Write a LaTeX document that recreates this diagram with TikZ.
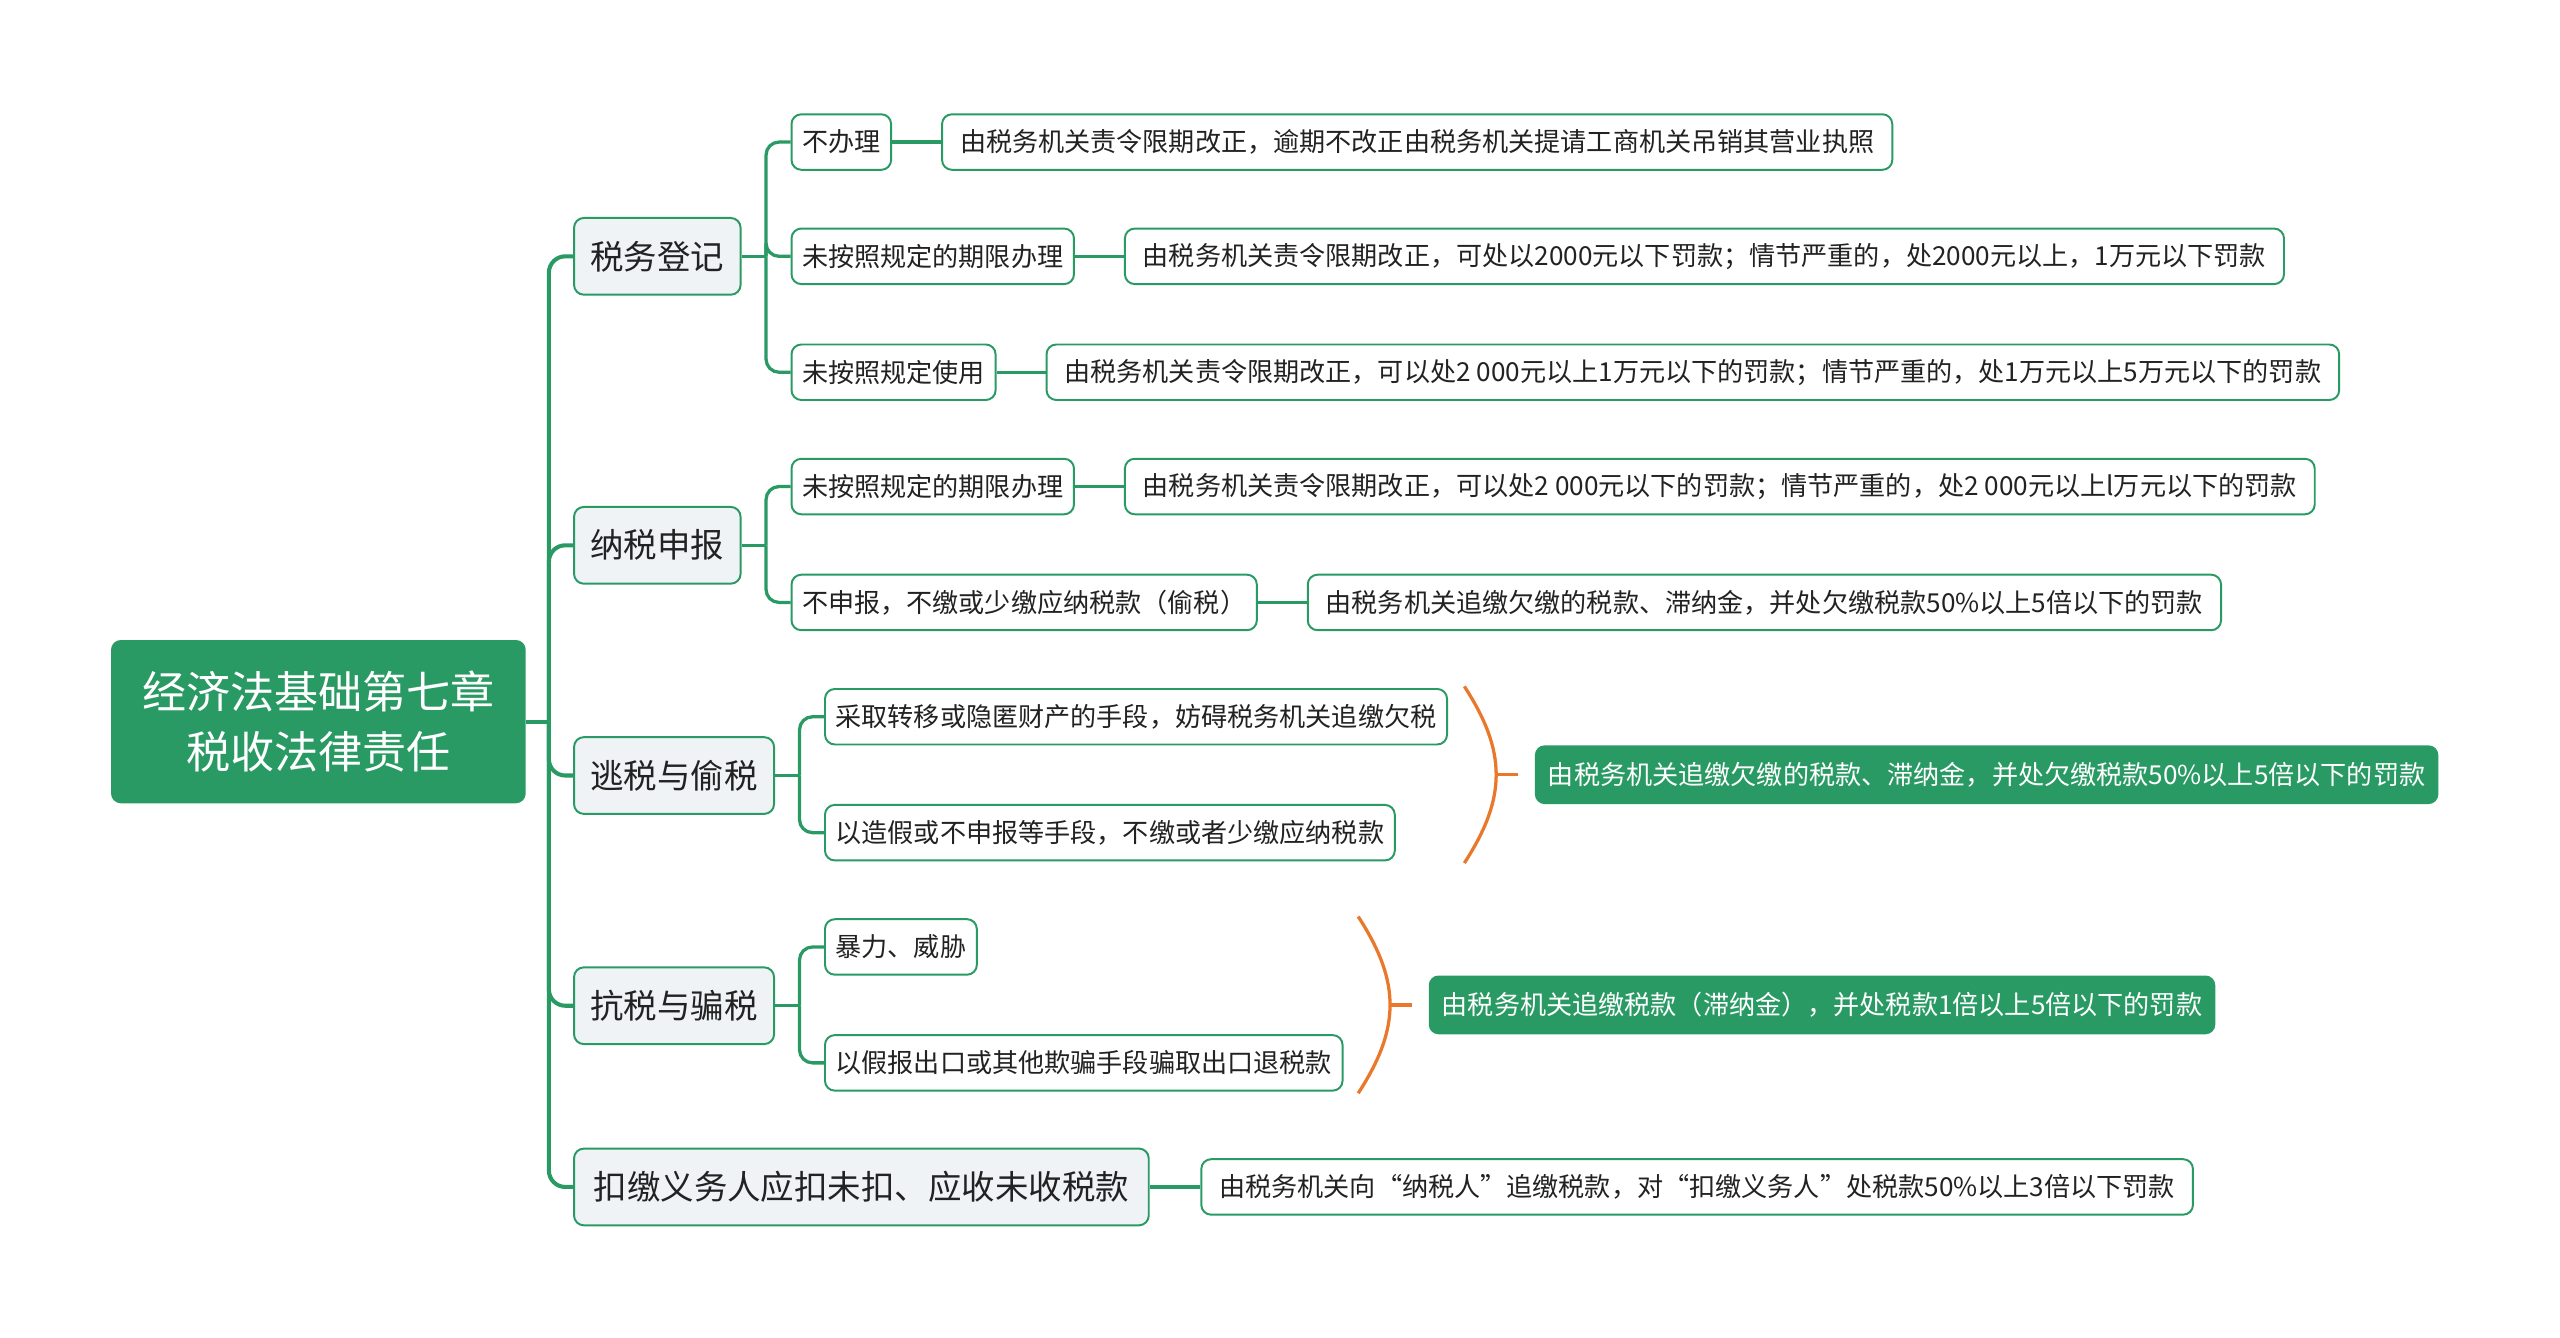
\documentclass[tikz,border=0pt]{standalone}
\usepackage{fontspec}
\setmainfont{Noto Sans CJK SC}
\usetikzlibrary{positioning,calc}
\definecolor{mapgreen}{RGB}{42,154,100}
\definecolor{topicfill}{RGB}{239,243,246}
\definecolor{braceorange}{RGB}{233,120,42}
\definecolor{textdark}{RGB}{34,34,34}
\tikzset{
  rootbox/.style={
    rectangle,
    rounded corners=6pt,
    fill=mapgreen,
    text=white,
    minimum width=254pt,
    minimum height=100pt,
    align=center,
    font=\fontsize{27}{37}\selectfont
  },
  topicbox/.style={
    draw=mapgreen,
    line width=1.2pt,
    fill=topicfill,
    rounded corners=6pt,
    minimum height=47pt,
    inner xsep=10pt,
    text=textdark,
    anchor=west,
    font=\fontsize{20.5}{24}\selectfont
  },
  itembox/.style={
    draw=mapgreen,
    line width=1.2pt,
    fill=white,
    rounded corners=6pt,
    minimum height=34pt,
    inner xsep=6.5pt,
    text=textdark,
    font=\fontsize{16}{19}\selectfont
  },
  detailbox/.style={
    itembox,
    inner xsep=11pt
  },
  resultbox/.style={
    fill=mapgreen,
    rounded corners=6pt,
    minimum height=36pt,
    inner xsep=8pt,
    text=white,
    anchor=west,
    font=\fontsize{16}{19}\selectfont
  },
  branch/.style={
    draw=mapgreen,
    line width=2.5pt,
    rounded corners=10pt
  },
  twig/.style={
    draw=mapgreen,
    line width=2pt,
    rounded corners=8pt
  },
  bracearc/.style={
    draw=braceorange,
    line width=2pt
  }
}

\begin{document}
\begin{tikzpicture}[x=1pt, y=-1pt, node distance=30pt]
\useasboundingbox (0,0) rectangle (1568,819);

\node[rootbox] (root) at (195,442) {经济法基础第七章\\税收法律责任};

\node[topicbox] (dengji) at (351,157) {税务登记};
\node[topicbox] (shenbao) at (351,334) {纳税申报};
\node[topicbox] (taoshui) at (351,475) {逃税与偷税};
\node[topicbox] (kangshui) at (351,616) {抗税与骗税};
\node[topicbox, inner xsep=12pt] (koujiao) at (351,727) {扣缴义务人应扣未扣、应收未收税款};

\node[itembox, right=of dengji, yshift=70pt] (buban) {不办理};
\node[itembox, right=of dengji] (dj-qixian) {未按照规定的期限办理};
\node[itembox, right=of dengji, yshift=-71pt] (shiyong) {未按照规定使用};
\node[itembox, right=of shenbao, yshift=36pt] (sb-qixian) {未按照规定的期限办理};
\node[itembox, right=of shenbao, yshift=-35pt] (bushenbao) {不申报，不缴或少缴应纳税款（偷税）};
\node[itembox, right=of taoshui, yshift=36pt] (zhuanyi) {采取转移或隐匿财产的手段，妨碍税务机关追缴欠税};
\node[itembox, right=of taoshui, yshift=-35pt] (zaojia) {以造假或不申报等手段，不缴或者少缴应纳税款};
\node[itembox, right=of kangshui, yshift=36pt] (baoli) {暴力、威胁};
\node[itembox, right=of kangshui, yshift=-35pt] (jiabao) {以假报出口或其他欺骗手段骗取出口退税款};

\node[detailbox, right=of buban] (buban-fa) {由税务机关责令限期改正，逾期不改正由税务机关提请工商机关吊销其营业执照};
\node[detailbox, right=of dj-qixian] (dj-qixian-fa) {由税务机关责令限期改正，可处以2000元以下罚款；情节严重的，处2000元以上，1万元以下罚款};
\node[detailbox, right=of shiyong] (shiyong-fa) {由税务机关责令限期改正，可以处2 000元以上1万元以下的罚款；情节严重的，处1万元以上5万元以下的罚款};
\node[detailbox, right=of sb-qixian] (sb-qixian-fa) {由税务机关责令限期改正，可以处2 000元以下的罚款；情节严重的，处2 000元以上l万元以下的罚款};
\node[detailbox, right=of bushenbao] (bushenbao-fa) {由税务机关追缴欠缴的税款、滞纳金，并处欠缴税款50\%以上5倍以下的罚款};
\node[detailbox, right=31pt of koujiao] (koujiao-fa) {由税务机关向“纳税人”追缴税款，对“扣缴义务人”处税款50\%以上3倍以下罚款};

\coordinate (trunk) at ($(root.east)+(14,0)$);
\draw[branch] (root) -- (trunk);
\foreach \t in {dengji,shenbao,taoshui,kangshui,koujiao}
  \draw[branch] (trunk) |- (\t.west);

\coordinate (dengji-bus) at ($(dengji.east)+(15,0)$);
\draw[twig] (dengji) -- (dengji-bus);
\foreach \c in {buban,dj-qixian,shiyong}
  \draw[twig] (dengji-bus) |- (\c.west);

\coordinate (shenbao-bus) at ($(shenbao.east)+(15,0)$);
\draw[twig] (shenbao) -- (shenbao-bus);
\foreach \c in {sb-qixian,bushenbao}
  \draw[twig] (shenbao-bus) |- (\c.west);

\coordinate (taoshui-bus) at ($(taoshui.east)+(15,0)$);
\draw[twig] (taoshui) -- (taoshui-bus);
\foreach \c in {zhuanyi,zaojia}
  \draw[twig] (taoshui-bus) |- (\c.west);

\coordinate (kangshui-bus) at ($(kangshui.east)+(15,0)$);
\draw[twig] (kangshui) -- (kangshui-bus);
\foreach \c in {baoli,jiabao}
  \draw[twig] (kangshui-bus) |- (\c.west);

\foreach \c in {buban,dj-qixian,shiyong,sb-qixian,bushenbao,koujiao}
  \draw[twig] (\c) -- (\c-fa);

\coordinate (tb-top) at ($(zhuanyi.north east)+(10,-1)$);
\coordinate (tb-bot) at ($(zhuanyi.east |- zaojia.south)+(10,1)$);
\coordinate (tb-mid) at ($(tb-top)!.5!(tb-bot)+(19,0)$);
\coordinate (tb-tick) at ($(tb-mid)+(14,0)$);
\draw[bracearc] (tb-top) .. controls ($(tb-top)+(26,40)$) and ($(tb-bot)+(26,-40)$) .. (tb-bot);
\draw[bracearc] (tb-mid) -- (tb-tick);
\node[resultbox] (taoshui-fa) at ($(tb-mid)+(24,0)$) {由税务机关追缴欠缴的税款、滞纳金，并处欠缴税款50\%以上5倍以下的罚款};

\coordinate (kb-top) at ($(jiabao.east |- baoli.north)+(9,-1)$);
\coordinate (kb-bot) at ($(jiabao.south east)+(9,1)$);
\coordinate (kb-mid) at ($(kb-top)!.5!(kb-bot)+(19,0)$);
\coordinate (kb-tick) at ($(kb-mid)+(14,0)$);
\draw[bracearc] (kb-top) .. controls ($(kb-top)+(26,40)$) and ($(kb-bot)+(26,-40)$) .. (kb-bot);
\draw[bracearc] (kb-mid) -- (kb-tick);
\node[resultbox] (kangshui-fa) at ($(kb-mid)+(24,0)$) {由税务机关追缴税款（滞纳金），并处税款1倍以上5倍以下的罚款};

\end{tikzpicture}
\end{document}
